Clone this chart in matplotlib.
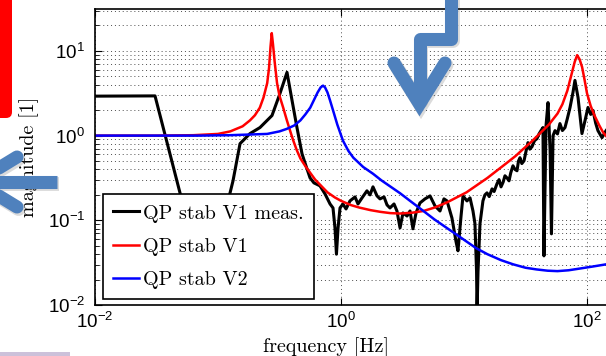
import numpy as np
import matplotlib
matplotlib.use('Agg')
import matplotlib.pyplot as plt
from matplotlib.lines import Line2D
from matplotlib.patches import FancyBboxPatch, Rectangle
from matplotlib.transforms import Affine2D
from matplotlib.ticker import LogLocator, NullLocator, NullFormatter

plt.rcParams['font.family'] = ['Liberation Sans', 'DejaVu Sans']
plt.rcParams['mathtext.fontset'] = 'custom'
plt.rcParams['mathtext.rm'] = 'Liberation Sans'
plt.rcParams['mathtext.it'] = 'Liberation Sans:italic'
plt.rcParams['mathtext.bf'] = 'Liberation Sans:bold'

# values, stored as log10 of frequency [Hz] / magnitude
meas_logf = [-2.0, -1.512, -1.309, -1.098, -0.902, -0.878, -0.821, -0.740, -0.659, -0.561,
             -0.496, -0.439, -0.398, -0.358, -0.317, -0.285, -0.252, -0.220, -0.171, -0.130,
             -0.089, -0.065, -0.049, -0.037, -0.024, -0.008, 0.016, 0.041, 0.073, 0.114,
             0.138, 0.171, 0.211, 0.236, 0.260, 0.293, 0.317, 0.350, 0.374, 0.398,
             0.431, 0.455, 0.480, 0.504, 0.537, 0.561, 0.585, 0.610, 0.642, 0.683,
             0.724, 0.764, 0.805, 0.837, 0.862, 0.902, 0.935, 0.951, 0.976, 0.992,
             1.024, 1.049, 1.073, 1.089, 1.102, 1.106, 1.114, 1.130, 1.154, 1.170,
             1.187, 1.205, 1.228, 1.245, 1.268, 1.285, 1.301, 1.318, 1.333, 1.350,
             1.366, 1.380, 1.398, 1.415, 1.431, 1.443, 1.455, 1.470, 1.488, 1.505,
             1.520, 1.535, 1.553, 1.573, 1.593, 1.610, 1.626, 1.642, 1.650, 1.667,
             1.683, 1.700, 1.711, 1.724, 1.740, 1.760, 1.780, 1.800, 1.821, 1.840,
             1.862, 1.886, 1.902, 1.927, 1.943, 1.959, 1.984, 2.008, 2.030, 2.049,
             2.070, 2.089, 2.122, 2.155, 2.187]
meas_logm = [0.466, 0.469, -0.676, -1.85, -0.676, -0.534, -0.095, 0.024, 0.095, 0.237,
             0.498, 0.747, 0.415, 0.095, -0.214, -0.356, -0.498, -0.558, -0.593, -0.688,
             -0.807, -0.854, -1.09, -1.40, -1.09, -0.854, -0.807, -0.866, -0.771, -0.724,
             -0.807, -0.735, -0.652, -0.700, -0.605, -0.712, -0.747, -0.724, -0.818, -0.854,
             -0.807, -0.890, -1.09, -0.913, -0.949, -0.890, -1.10, -0.913, -0.795, -0.747,
             -0.712, -0.830, -0.890, -0.747, -0.771, -0.973, -1.25, -1.36, -0.949, -0.712,
             -0.771, -0.735, -0.890, -1.04, -1.60, -2.08, -1.60, -1.04, -0.771, -0.700,
             -0.676, -0.720, -0.629, -0.660, -0.569, -0.520, -0.605, -0.550, -0.474, -0.500,
             -0.534, -0.440, -0.356, -0.400, -0.415, -0.300, -0.261, -0.330, -0.297, -0.180,
             -0.083, -0.160, -0.130, -0.060, -0.036, 0.020, 0.059, 0.095, -1.42, 0.12,
             0.39, -0.18, -1.16, 0.0, 0.059, 0.020, 0.142, 0.060, 0.095, 0.200,
             0.332, 0.510, 0.652, 0.451, 0.237, 0.024, 0.178, 0.332, 0.250, 0.297,
             0.150, 0.059, -0.024, 0.059, 0.119]

v1_logf = [-2.0, -1.5, -1.2, -1.0, -0.9, -0.8, -0.74, -0.70, -0.66, -0.63,
           -0.60, -0.585, -0.573, -0.563, -0.553, -0.54, -0.52, -0.50, -0.47, -0.44,
           -0.41, -0.39, -0.36, -0.33, -0.29, -0.25, -0.21, -0.17, -0.11, -0.05,
           0.0, 0.08, 0.15, 0.24, 0.32, 0.40, 0.48, 0.58, 0.67, 0.76,
           0.86, 0.94, 1.02, 1.10, 1.19, 1.27, 1.35, 1.42, 1.48, 1.55,
           1.62, 1.69, 1.76, 1.80, 1.84, 1.87, 1.90, 1.92, 1.94, 1.96,
           1.98, 2.0, 2.03, 2.06, 2.10, 2.13, 2.17, 2.2]
v1_logm = [0.0, 0.0, 0.005, 0.02, 0.05, 0.11, 0.18, 0.24, 0.33, 0.45,
           0.62, 0.80, 1.05, 1.21, 1.08, 0.88, 0.62, 0.47, 0.33, 0.18,
           0.04, -0.05, -0.17, -0.27, -0.36, -0.44, -0.52, -0.58, -0.67, -0.73,
           -0.77, -0.82, -0.85, -0.88, -0.90, -0.915, -0.92, -0.91, -0.89, -0.85,
           -0.79, -0.73, -0.67, -0.59, -0.50, -0.41, -0.32, -0.24, -0.16, -0.07,
           0.03, 0.13, 0.26, 0.37, 0.53, 0.70, 0.87, 0.95, 0.90, 0.81,
           0.66, 0.50, 0.35, 0.24, 0.12, 0.04, -0.03, -0.08]

v2_logf = [-2.0, -1.15, -0.9, -0.8, -0.6, -0.5, -0.44, -0.38, -0.33, -0.29,
           -0.25, -0.22, -0.19, -0.165, -0.146, -0.13, -0.11, -0.09, -0.065, -0.03,
           0.016, 0.06, 0.10, 0.18, 0.26, 0.33, 0.40, 0.48, 0.57, 0.67,
           0.76, 0.86, 0.94, 1.02, 1.10, 1.19, 1.30, 1.40, 1.50, 1.59,
           1.68, 1.76, 1.85, 1.94, 2.05, 2.155, 2.2]
v2_logm = [0.0, 0.0, 0.005, 0.01, 0.02, 0.05, 0.08, 0.12, 0.18, 0.25,
           0.33, 0.42, 0.51, 0.57, 0.59, 0.57, 0.51, 0.42, 0.30, 0.13,
           -0.06, -0.18, -0.26, -0.37, -0.45, -0.53, -0.60, -0.68, -0.78, -0.89,
           -0.99, -1.09, -1.17, -1.25, -1.33, -1.40, -1.47, -1.52, -1.56, -1.58,
           -1.595, -1.60, -1.59, -1.57, -1.545, -1.52, -1.50]

labels = ['QP stab V1 meas.', 'QP stab V1', 'QP stab V2']
colors = ['black', 'red', 'blue']

W, H = 606, 356
AW, AH = 553.5, 296
fig = plt.figure(figsize=(W / 100, H / 100), dpi=100)
ax = fig.add_axes([95 / W, 51 / H, AW / W, AH / H])

ax.plot(10 ** np.array(meas_logf), 10 ** np.array(meas_logm), color=colors[0], lw=2.2, label=labels[0])
ax.plot(10 ** np.array(v1_logf), 10 ** np.array(v1_logm), color=colors[1], lw=1.8, label=labels[1])
ax.plot(10 ** np.array(v2_logf), 10 ** np.array(v2_logm), color=colors[2], lw=1.8, label=labels[2])

ax.set_xscale('log')
ax.set_yscale('log')
ax.set_xlim(1e-2, 10 ** 2.5)
ax.set_ylim(1e-2, 10 ** 1.495)
ax.set_xticks([1e-2, 1e0, 1e2])
ax.xaxis.set_minor_locator(NullLocator())
ax.yaxis.set_major_locator(LogLocator(base=10, numticks=10))
ax.yaxis.set_minor_locator(LogLocator(base=10, subs=np.arange(2, 10), numticks=20))
ax.yaxis.set_minor_formatter(NullFormatter())
ax.tick_params(which='both', direction='in', top=True, right=True, labelsize=13.5)
ax.tick_params(axis='x', pad=5)
ax.tick_params(axis='y', pad=7)
ax.tick_params(which='major', length=5, width=0.8)
ax.tick_params(which='minor', length=3, width=0.6)

ax.grid(True, which='major', axis='x', color='0.3', lw=0.7, dashes=(1, 3))
ax.grid(True, which='both', axis='y', color='0.3', lw=0.7, dashes=(1, 3))
for s in ax.spines.values():
    s.set_linewidth(1.2)

ax.set_xlabel('frequency [Hz]', fontfamily='cmr10', fontsize=14.5)
ax.xaxis.set_label_coords((326 - 95) / AW, (305 - 337) / AH)
ax.set_ylabel('magnitude [1]', fontfamily='cmr10', fontsize=14.5)
ax.yaxis.set_label_coords((39 - 95) / AW, 0.5)

leg = ax.legend(loc='lower left', bbox_to_anchor=(8 / AW, 6 / AH), borderaxespad=0,
                fancybox=False, framealpha=1, edgecolor='black',
                prop={'family': 'cmr10', 'size': 14.5},
                handlelength=1.3, handletextpad=0.2, labelspacing=0.75, borderpad=0.5)
leg.get_frame().set_linewidth(1.2)

# slide annotations drawn over the figure (pixel coords, y from top)
pix = Affine2D().scale(1 / W, -1 / H).translate(0, 1) + fig.transFigure
fig.add_artist(FancyBboxPatch((-40, -40), 52, 158, boxstyle='round,pad=0,rounding_size=6',
                              transform=pix, fc='red', ec='none'))
fig.add_artist(Rectangle((0, 352), 70, 6, transform=pix, fc='#ccc1da', ec='none'))

arrow_c = '#4f81bd'
shadow_c = (0.3, 0.3, 0.3, 0.2)
paths = [
    ([451, 451, 419.5, 419.5], [-10, 39, 39, 100], 'round', 'round'),
    ([394, 419.5, 445], [63, 104, 63], 'round', 'miter'),
    ([57, -20], [182, 182], 'butt', 'miter'),
    ([17, -24, 17], [157, 182, 207], 'round', 'miter'),
]
for xs, ys, cap, join in paths:
    fig.add_artist(Line2D(np.array(xs) + 1.5, np.array(ys) + 2, transform=pix, lw=10, color=shadow_c,
                          solid_capstyle=cap, solid_joinstyle=join))
for xs, ys, cap, join in paths:
    fig.add_artist(Line2D(xs, ys, transform=pix, lw=9.4, color=arrow_c,
                          solid_capstyle=cap, solid_joinstyle=join))

fig.savefig('out.png', dpi=100)
